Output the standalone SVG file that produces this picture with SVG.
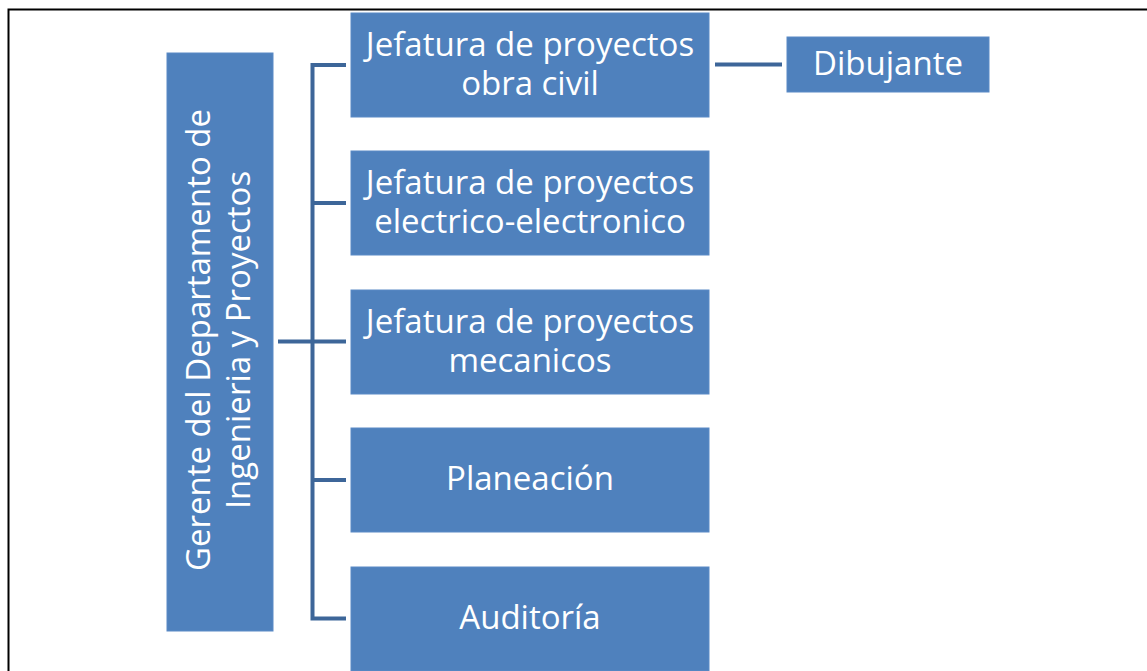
<svg xmlns="http://www.w3.org/2000/svg" width="1147" height="671" viewBox="0 0 1147 671">
<style>
.box{fill:#4F81BD;stroke:#5A8AC6;stroke-width:1}
.t{fill:#fff;font-family:"Open Sans","Liberation Sans",sans-serif;font-size:33px;text-anchor:middle}
.c{stroke:#3D6699;stroke-width:4;fill:none}
</style>
<rect x="0" y="0" width="1147" height="671" fill="#fff"/>
<path d="M8.5 671 V9.5 H1147" fill="none" stroke="#000" stroke-width="2"/>
<g id="connectors">
<path class="c" d="M278 341.5 H346"/>
<path class="c" d="M346 65 H312.5 V618.5 H346"/>
<path class="c" d="M312 203 H346 M312 480 H346"/>
<path class="c" d="M715 64.5 H782"/>
</g>
<g id="gerente">
<rect class="box" x="167" y="53" width="106" height="578"/>
<text class="t" transform="translate(220 340) rotate(-90)"><tspan x="0" y="-10">Gerente del Departamento de</tspan><tspan x="0" y="30">Ingenieria y Proyectos</tspan></text>
</g>
<g id="obra-civil">
<rect class="box" x="351" y="13" width="358" height="104"/>
<text class="t" x="530" y="56">Jefatura de proyectos</text>
<text class="t" x="530" y="95">obra civil</text>
</g>
<g id="electrico">
<rect class="box" x="351" y="151" width="358" height="104"/>
<text class="t" x="530" y="194">Jefatura de proyectos</text>
<text class="t" x="530" y="233">electrico-electronico</text>
</g>
<g id="mecanicos">
<rect class="box" x="351" y="290" width="358" height="104"/>
<text class="t" x="530" y="333">Jefatura de proyectos</text>
<text class="t" x="530" y="372">mecanicos</text>
</g>
<g id="planeacion">
<rect class="box" x="351" y="428" width="358" height="104"/>
<text class="t" x="530" y="490">Planeación</text>
</g>
<g id="auditoria">
<rect class="box" x="351" y="567" width="358" height="104"/>
<text class="t" x="530" y="629">Auditoría</text>
</g>
<g id="dibujante">
<rect class="box" x="787" y="37" width="202" height="55"/>
<text class="t" x="888" y="75">Dibujante</text>
</g>
</svg>
